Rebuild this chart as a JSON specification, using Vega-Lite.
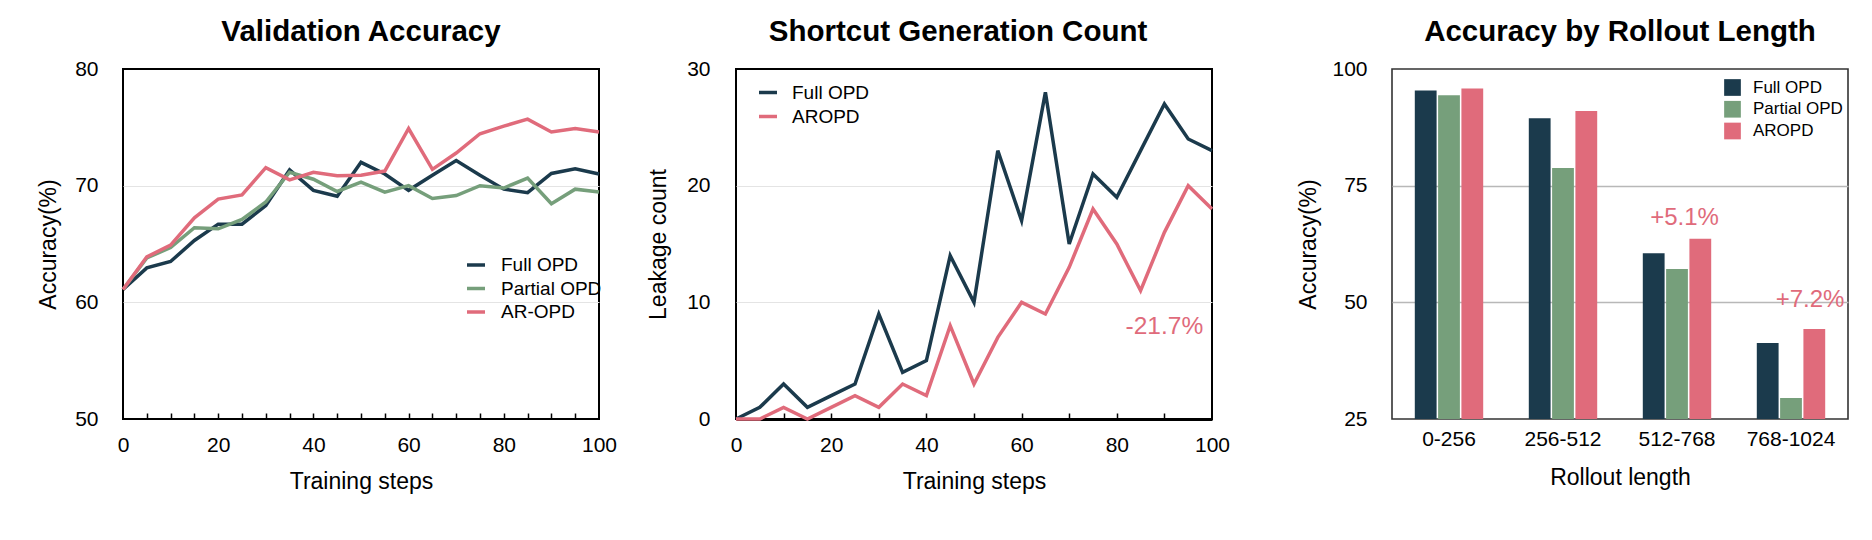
{
  "$schema": "https://vega.github.io/schema/vega-lite/v6.json",
  "padding": {"left": 36, "top": 15, "right": 5, "bottom": 5},
  "config": {
    "font": "Liberation Sans",
    "view": {"stroke": "black", "strokeWidth": 2},
    "axis": {
      "labelColor": "black",
      "titleColor": "black",
      "labelFontSize": 21,
      "titleFontSize": 23,
      "titleFontWeight": "normal",
      "labelFont": "Liberation Sans",
      "titleFont": "Liberation Sans"
    },
    "title": {
      "fontSize": 29.5,
      "fontWeight": "bold",
      "color": "black",
      "anchor": "middle",
      "baseline": "alphabetic",
      "offset": 11
    },
    "legend": {"labelColor": "black", "padding": 0, "labelFont": "Liberation Sans"}
  },
  "datasets": {
    "acc": [
      {"step": 0, "method": "Full OPD", "acc": 61.1},
      {"step": 5, "method": "Full OPD", "acc": 62.95},
      {"step": 10, "method": "Full OPD", "acc": 63.5},
      {"step": 15, "method": "Full OPD", "acc": 65.3},
      {"step": 20, "method": "Full OPD", "acc": 66.7},
      {"step": 25, "method": "Full OPD", "acc": 66.7},
      {"step": 30, "method": "Full OPD", "acc": 68.3},
      {"step": 35, "method": "Full OPD", "acc": 71.35},
      {"step": 40, "method": "Full OPD", "acc": 69.6},
      {"step": 45, "method": "Full OPD", "acc": 69.1},
      {"step": 50, "method": "Full OPD", "acc": 72.0},
      {"step": 55, "method": "Full OPD", "acc": 71.0},
      {"step": 60, "method": "Full OPD", "acc": 69.6},
      {"step": 65, "method": "Full OPD", "acc": 70.9},
      {"step": 70, "method": "Full OPD", "acc": 72.15},
      {"step": 75, "method": "Full OPD", "acc": 70.9},
      {"step": 80, "method": "Full OPD", "acc": 69.7},
      {"step": 85, "method": "Full OPD", "acc": 69.4},
      {"step": 90, "method": "Full OPD", "acc": 71.05},
      {"step": 95, "method": "Full OPD", "acc": 71.45},
      {"step": 100, "method": "Full OPD", "acc": 71.0},
      {"step": 0, "method": "Partial OPD", "acc": 61.1},
      {"step": 5, "method": "Partial OPD", "acc": 63.8},
      {"step": 10, "method": "Partial OPD", "acc": 64.7},
      {"step": 15, "method": "Partial OPD", "acc": 66.4},
      {"step": 20, "method": "Partial OPD", "acc": 66.3},
      {"step": 25, "method": "Partial OPD", "acc": 67.1},
      {"step": 30, "method": "Partial OPD", "acc": 68.6},
      {"step": 35, "method": "Partial OPD", "acc": 71.15},
      {"step": 40, "method": "Partial OPD", "acc": 70.55},
      {"step": 45, "method": "Partial OPD", "acc": 69.5},
      {"step": 50, "method": "Partial OPD", "acc": 70.3},
      {"step": 55, "method": "Partial OPD", "acc": 69.45},
      {"step": 60, "method": "Partial OPD", "acc": 70.0},
      {"step": 65, "method": "Partial OPD", "acc": 68.9},
      {"step": 70, "method": "Partial OPD", "acc": 69.15},
      {"step": 75, "method": "Partial OPD", "acc": 70.0},
      {"step": 80, "method": "Partial OPD", "acc": 69.8},
      {"step": 85, "method": "Partial OPD", "acc": 70.65},
      {"step": 90, "method": "Partial OPD", "acc": 68.45},
      {"step": 95, "method": "Partial OPD", "acc": 69.7},
      {"step": 100, "method": "Partial OPD", "acc": 69.45},
      {"step": 0, "method": "AR-OPD", "acc": 61.1},
      {"step": 5, "method": "AR-OPD", "acc": 63.9},
      {"step": 10, "method": "AR-OPD", "acc": 64.9},
      {"step": 15, "method": "AR-OPD", "acc": 67.25},
      {"step": 20, "method": "AR-OPD", "acc": 68.85},
      {"step": 25, "method": "AR-OPD", "acc": 69.2},
      {"step": 30, "method": "AR-OPD", "acc": 71.55},
      {"step": 35, "method": "AR-OPD", "acc": 70.5},
      {"step": 40, "method": "AR-OPD", "acc": 71.15},
      {"step": 45, "method": "AR-OPD", "acc": 70.85},
      {"step": 50, "method": "AR-OPD", "acc": 70.9},
      {"step": 55, "method": "AR-OPD", "acc": 71.25},
      {"step": 60, "method": "AR-OPD", "acc": 74.9},
      {"step": 65, "method": "AR-OPD", "acc": 71.4},
      {"step": 70, "method": "AR-OPD", "acc": 72.8},
      {"step": 75, "method": "AR-OPD", "acc": 74.45},
      {"step": 80, "method": "AR-OPD", "acc": 75.1},
      {"step": 85, "method": "AR-OPD", "acc": 75.7},
      {"step": 90, "method": "AR-OPD", "acc": 74.6},
      {"step": 95, "method": "AR-OPD", "acc": 74.9},
      {"step": 100, "method": "AR-OPD", "acc": 74.6}
    ],
    "leak": [
      {"step": 0, "method": "Full OPD", "count": 0},
      {"step": 5, "method": "Full OPD", "count": 1},
      {"step": 10, "method": "Full OPD", "count": 3},
      {"step": 15, "method": "Full OPD", "count": 1},
      {"step": 20, "method": "Full OPD", "count": 2},
      {"step": 25, "method": "Full OPD", "count": 3},
      {"step": 30, "method": "Full OPD", "count": 9},
      {"step": 35, "method": "Full OPD", "count": 4},
      {"step": 40, "method": "Full OPD", "count": 5},
      {"step": 45, "method": "Full OPD", "count": 14},
      {"step": 50, "method": "Full OPD", "count": 10},
      {"step": 55, "method": "Full OPD", "count": 23},
      {"step": 60, "method": "Full OPD", "count": 17},
      {"step": 65, "method": "Full OPD", "count": 28},
      {"step": 70, "method": "Full OPD", "count": 15},
      {"step": 75, "method": "Full OPD", "count": 21},
      {"step": 80, "method": "Full OPD", "count": 19},
      {"step": 85, "method": "Full OPD", "count": 23},
      {"step": 90, "method": "Full OPD", "count": 27},
      {"step": 95, "method": "Full OPD", "count": 24},
      {"step": 100, "method": "Full OPD", "count": 23},
      {"step": 0, "method": "AROPD", "count": 0},
      {"step": 5, "method": "AROPD", "count": 0},
      {"step": 10, "method": "AROPD", "count": 1},
      {"step": 15, "method": "AROPD", "count": 0},
      {"step": 20, "method": "AROPD", "count": 1},
      {"step": 25, "method": "AROPD", "count": 2},
      {"step": 30, "method": "AROPD", "count": 1},
      {"step": 35, "method": "AROPD", "count": 3},
      {"step": 40, "method": "AROPD", "count": 2},
      {"step": 45, "method": "AROPD", "count": 8},
      {"step": 50, "method": "AROPD", "count": 3},
      {"step": 55, "method": "AROPD", "count": 7},
      {"step": 60, "method": "AROPD", "count": 10},
      {"step": 65, "method": "AROPD", "count": 9},
      {"step": 70, "method": "AROPD", "count": 13},
      {"step": 75, "method": "AROPD", "count": 18},
      {"step": 80, "method": "AROPD", "count": 15},
      {"step": 85, "method": "AROPD", "count": 11},
      {"step": 90, "method": "AROPD", "count": 16},
      {"step": 95, "method": "AROPD", "count": 20},
      {"step": 100, "method": "AROPD", "count": 18}
    ],
    "bars": [
      {"range": "0-256", "method": "Full OPD", "acc": 95.4},
      {"range": "0-256", "method": "Partial OPD", "acc": 94.4},
      {"range": "0-256", "method": "AROPD", "acc": 95.8},
      {"range": "256-512", "method": "Full OPD", "acc": 89.45},
      {"range": "256-512", "method": "Partial OPD", "acc": 78.8},
      {"range": "256-512", "method": "AROPD", "acc": 91.0},
      {"range": "512-768", "method": "Full OPD", "acc": 60.5},
      {"range": "512-768", "method": "Partial OPD", "acc": 57.15},
      {"range": "512-768", "method": "AROPD", "acc": 63.6},
      {"range": "768-1024", "method": "Full OPD", "acc": 41.3},
      {"range": "768-1024", "method": "Partial OPD", "acc": 29.5},
      {"range": "768-1024", "method": "AROPD", "acc": 44.3}
    ]
  },
  "hconcat": [
    {
      "hconcat": [
        {
          "title": "Validation Accuracy",
          "width": 476,
          "height": 350,
          "data": {"name": "acc"},
          "mark": {"type": "line", "strokeWidth": 3.5},
          "encoding": {
            "x": {
              "field": "step",
              "type": "quantitative",
              "scale": {"domain": [0, 100], "nice": false},
              "axis": {
                "title": "Training steps",
                "values": [0, 5, 10, 15, 20, 25, 30, 35, 40, 45, 50, 55, 60, 65, 70, 75, 80, 85, 90, 95, 100],
                "labelExpr": "datum.value % 20 === 0 ? datum.label : ''",
                "grid": false,
                "domain": false,
                "ticks": true,
                "tickSize": -6,
                "tickWidth": 1.5,
                "tickColor": {"condition": {"test": "datum.value == 0 || datum.value == 100", "value": "transparent"}, "value": "black"},
                "labelPadding": 21,
                "labelFlush": false,
                "titlePadding": 15
              }
            },
            "y": {
              "field": "acc",
              "type": "quantitative",
              "scale": {"domain": [50, 80], "nice": false, "zero": false},
              "axis": {
                "title": "Accuracy(%)",
                "values": [50, 60, 70, 80],
                "ticks": false,
                "domain": false,
                "grid": true,
                "gridColor": {"condition": {"test": "datum.value == 50 || datum.value == 80", "value": "transparent"}, "value": "#e4e4e4"},
                "labelPadding": 25,
                "titlePadding": 14
              }
            },
            "color": {
              "field": "method",
              "type": "nominal",
              "scale": {"domain": ["Full OPD", "Partial OPD", "AR-OPD"], "range": ["#1b3a4c", "#769f7b", "#e06b7b"]},
              "legend": {
                "title": null,
                "orient": "none",
                "legendX": 342,
                "legendY": 185,
                "symbolType": "stroke",
                "symbolSize": 324,
                "symbolStrokeWidth": 3.5,
                "labelFontSize": 19,
                "labelOffset": 14,
                "rowPadding": 2.5
              }
            }
          }
        },
        {
          "title": {"text": "Shortcut Generation Count", "dx": -16},
          "width": 476,
          "height": 350,
          "layer": [
            {
              "data": {"name": "leak"},
              "mark": {"type": "line", "strokeWidth": 3.5},
              "encoding": {
                "x": {
                  "field": "step",
                  "type": "quantitative",
                  "scale": {"domain": [0, 100], "nice": false},
                  "axis": {
                    "title": "Training steps",
                    "values": [0, 5, 10, 15, 20, 25, 30, 35, 40, 45, 50, 55, 60, 65, 70, 75, 80, 85, 90, 95, 100],
                    "labelExpr": "datum.value % 20 === 0 ? datum.label : ''",
                    "grid": false,
                    "domain": true,
                    "domainColor": "black",
                    "domainWidth": 3,
                    "ticks": true,
                    "tickSize": -6,
                    "tickWidth": 1.5,
                    "tickColor": {"condition": {"test": "datum.value == 0 || datum.value == 100", "value": "transparent"}, "value": "black"},
                    "labelPadding": 21,
                    "labelFlush": false,
                    "titlePadding": 15
                  }
                },
                "y": {
                  "field": "count",
                  "type": "quantitative",
                  "scale": {"domain": [0, 30], "nice": false},
                  "axis": {
                    "title": "Leakage count",
                    "values": [0, 10, 20, 30],
                    "ticks": false,
                    "domain": false,
                    "grid": true,
                    "gridColor": {"condition": {"test": "datum.value == 0 || datum.value == 30", "value": "transparent"}, "value": "#e4e4e4"},
                    "labelPadding": 26,
                    "titlePadding": 16
                  }
                },
                "color": {
                  "field": "method",
                  "type": "nominal",
                  "scale": {"domain": ["Full OPD", "AROPD"], "range": ["#1b3a4c", "#e06b7b"]},
                  "legend": {
                    "title": null,
                    "orient": "none",
                    "legendX": 21,
                    "legendY": 12.5,
                    "symbolType": "stroke",
                    "symbolSize": 324,
                    "symbolStrokeWidth": 3.5,
                    "labelFontSize": 19,
                    "labelOffset": 13,
                    "rowPadding": 3
                  }
                }
              }
            },
            {
              "data": {"values": [{}]},
              "mark": {"type": "text", "fontSize": 24.5, "color": "#e06b7b", "align": "center", "baseline": "middle"},
              "encoding": {
                "x": {"datum": 90},
                "y": {"datum": 7.9},
                "text": {"value": "-21.7%"}
              }
            }
          ]
        }
      ],
      "spacing": 28,
      "resolve": {"scale": {"color": "independent"}, "legend": {"color": "independent"}}
    },
    {
      "title": "Accuracy by Rollout Length",
      "width": 456,
      "height": 350,
      "view": {"stroke": "#333333", "strokeWidth": 1.6},
      "layer": [
        {
          "data": {"name": "bars"},
          "mark": {"type": "bar"},
          "encoding": {
            "x": {
              "field": "range",
              "type": "nominal",
              "scale": {"domain": ["0-256", "256-512", "512-768", "768-1024"], "paddingInner": 0.4, "paddingOuter": 0.2},
              "axis": {
                "title": "Rollout length",
                "labelAngle": 0,
                "ticks": false,
                "domain": false,
                "labelPadding": 9,
                "titlePadding": 17
              }
            },
            "xOffset": {
              "field": "method",
              "type": "nominal",
              "scale": {"domain": ["Full OPD", "Partial OPD", "AROPD"], "paddingInner": 0.065}
            },
            "y": {
              "field": "acc",
              "type": "quantitative",
              "scale": {"domain": [25, 100], "nice": false, "zero": false},
              "axis": {
                "title": "Accuracy(%)",
                "values": [25, 50, 75, 100],
                "ticks": false,
                "domain": false,
                "grid": true,
                "gridWidth": 1.5,
                "gridColor": {"condition": {"test": "datum.value == 25 || datum.value == 100", "value": "transparent"}, "value": "#b8b8b8"},
                "labelPadding": 25,
                "titlePadding": 11
              }
            },
            "y2": {"datum": 25},
            "color": {
              "field": "method",
              "type": "nominal",
              "scale": {"domain": ["Full OPD", "Partial OPD", "AROPD"], "range": ["#1b3a4c", "#769f7b", "#e06b7b"]},
              "legend": {
                "title": null,
                "orient": "none",
                "legendX": 332,
                "legendY": 10,
                "symbolType": "square",
                "symbolSize": 279,
                "symbolStrokeWidth": 0,
                "labelFontSize": 17,
                "labelOffset": 12,
                "rowPadding": 3.75
              }
            }
          }
        },
        {
          "data": {"values": [{}]},
          "mark": {"type": "text", "fontSize": 24, "color": "#e06b7b", "align": "center", "baseline": "middle", "dx": 7.5},
          "encoding": {
            "x": {"datum": "512-768"},
            "y": {"datum": 68.1},
            "text": {"value": "+5.1%"}
          }
        },
        {
          "data": {"values": [{}]},
          "mark": {"type": "text", "fontSize": 24, "color": "#e06b7b", "align": "center", "baseline": "middle", "dx": 19},
          "encoding": {
            "x": {"datum": "768-1024"},
            "y": {"datum": 50.6},
            "text": {"value": "+7.2%"}
          }
        }
      ]
    }
  ],
  "spacing": 66,
  "resolve": {"scale": {"color": "independent"}, "legend": {"color": "independent"}}
}
